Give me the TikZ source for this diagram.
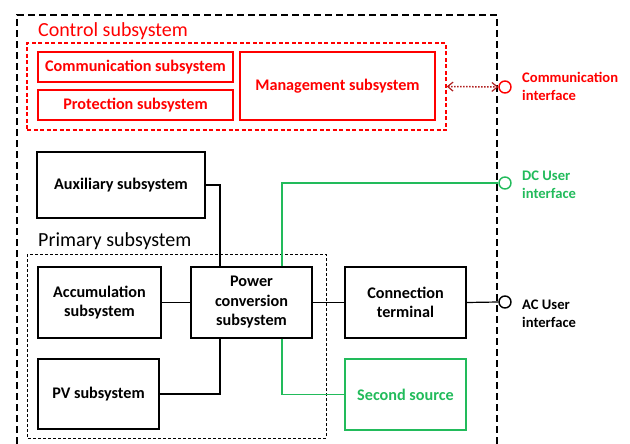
\documentclass[tikz,border=0pt]{standalone}
\usepackage{fontspec}
\setmainfont{Carlito}
\usetikzlibrary{arrows.meta,calc}
\definecolor{cred}{HTML}{FF0000}
\definecolor{cgreen}{HTML}{22BB5B}
\definecolor{cdred}{HTML}{B02020}
\begin{document}
\begin{tikzpicture}[x=1pt,y=-1pt,
  box/.style={draw,line width=1.4pt,rectangle,inner sep=0pt,align=center,font=\fontsize{16.2}{19.5}\selectfont\bfseries},
  redbox/.style={box,draw=cred,text=cred},
  greenbox/.style={box,draw=cgreen,text=cgreen},
  port/.style={circle,draw,line width=1.4pt,minimum size=12pt,inner sep=0pt},
  lbl/.style={anchor=west,align=left,inner sep=0pt,font=\fontsize{14.6}{18}\selectfont\bfseries},
  title/.style={anchor=west,inner sep=0pt,font=\fontsize{20}{24}\selectfont},
  wire/.style={line width=1.2pt},
  gwire/.style={line width=1.4pt,draw=cgreen},
  barb/.tip={Straight Barb[length=5.5pt,width=9pt,line width=1.2pt]}
]
\useasboundingbox (0,0) rectangle (630,444);
% outer dashed frame (bottom not visible)
\draw[line width=1.5pt,dash pattern=on 7pt off 4pt] (17,444) -- (17,15) -- (497,15) -- (497,444);

% control subsystem
\node[title,text=cred] (ctitle) at (38,31) {Control subsystem};
\node[draw=cred,line width=1.3pt,dash pattern=on 4pt off 2.5pt,rectangle,inner sep=0pt,minimum width=419pt,minimum height=87pt] (ctrl) at (236.5,86.5) {};
\node[redbox,minimum width=195pt,minimum height=30pt] (comm) at (135.5,67) {Communication subsystem};
\node[redbox,minimum width=195pt,minimum height=30pt] (prot) at (135.5,105) {Protection subsystem};
\node[redbox,minimum width=195pt,minimum height=68pt] (mgmt) at (337.5,86) {Management subsystem};

% ports
\node[port,draw=cred] (pcomm) at (505,87) {};
\node[port,draw=cgreen] (pdc) at (505,183) {};
\node[port,draw=black] (pac) at (505,302) {};
\node[lbl,text=cred] (tcomm) at (522,86) {Communication\\interface};
\node[lbl,text=cgreen] (tdc) at (522,184.5) {DC User\\interface};
\node[lbl] (tac) at (522,313.5) {AC User\\interface};

\draw[cdred,line width=1.5pt,dash pattern=on 1.5pt off 1.5pt,barb-barb] (ctrl.east) -- (pcomm.west);

% auxiliary
\node[box,minimum width=168pt,minimum height=66pt] (aux) at (121,185) {Auxiliary subsystem};

% primary subsystem
\node[title] (ptitle) at (38,241) {Primary subsystem};
\draw[line width=1pt,dash pattern=on 3pt off 2pt] (27,254) rectangle (326,438);
\node[box,minimum width=123pt,minimum height=71pt] (acc) at (99.5,302.5) {Accumulation\\subsystem};
\node[box,minimum width=121pt,minimum height=71pt] (pow) at (251.5,302.5) {Power\\conversion\\subsystem};
\node[box,minimum width=121pt,minimum height=70pt] (pv) at (98.5,394) {PV subsystem};
\node[box,minimum width=121pt,minimum height=71pt] (conn) at (405.5,302.5) {Connection\\terminal};
\node[greenbox,minimum width=121pt,minimum height=71pt] (sec) at (405.5,394.5) {Second source};

\coordinate (j1) at (220,0);
\coordinate (j2) at (282,0);
\draw[wire] (aux.east) -| (pow.north -| j1);
\draw[wire] (pv.east) -| (pow.south -| j1);
\draw[wire] (acc.east) -- (pow.west |- acc.east);
\draw[wire] (pow.east) -- (conn.west);
\draw[wire] (conn.east) -- (pac.west);
\draw[gwire] (pow.north -| j2) |- (pdc.west);
\draw[gwire] (pow.south -| j2) |- (sec.west);
\end{tikzpicture}
\end{document}
